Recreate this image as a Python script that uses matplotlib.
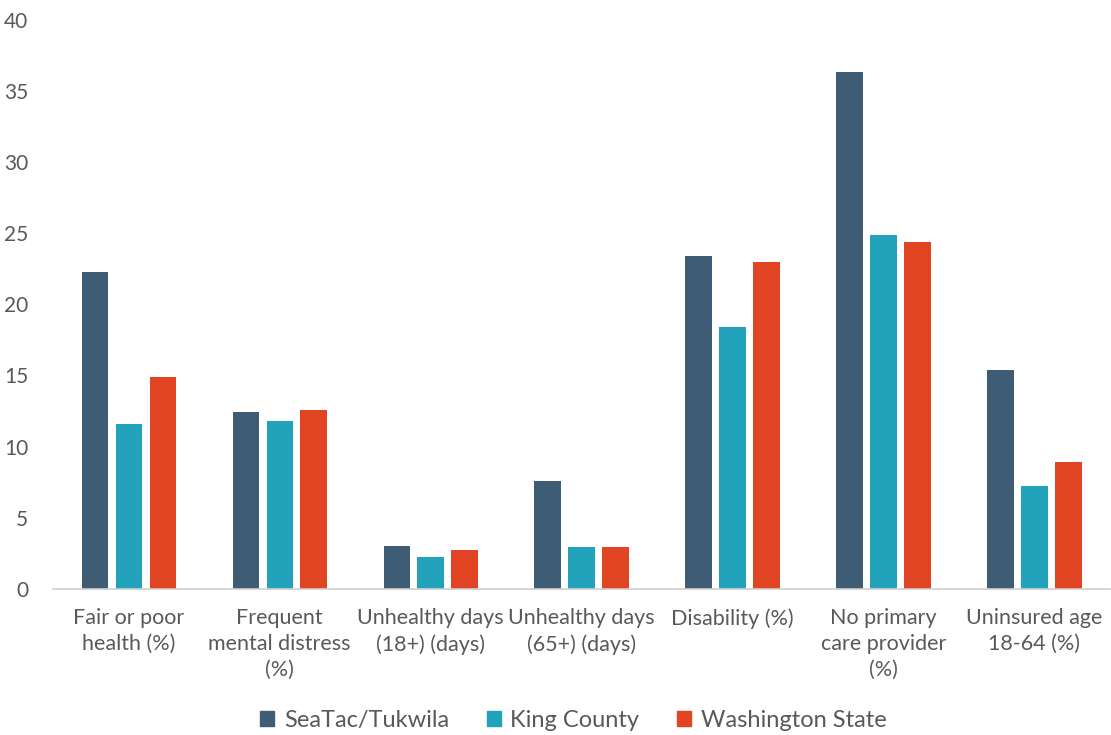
import numpy as np
import matplotlib.pyplot as plt
from matplotlib.patches import Patch

# ── Data ──────────────────────────────────────────────────────
categories = ['Fair or poor\nhealth (%)', 'Frequent\nmental distress\n(%)',
              'Unhealthy days\n(18+) (days)', 'Unhealthy days\n(65+) (days)',
              'Disability (%)', 'No primary\ncare provider\n(%)',
              'Uninsured age\n18-64 (%)']
seatac  = [22.3, 12.4, 3.0, 7.6, 23.4, 36.3, 15.4]
king    = [11.6, 11.8, 2.25, 2.9, 18.4, 24.9, 7.2]
wa      = [14.9, 12.6, 2.7, 2.95, 23.0, 24.4, 8.9]
series  = ['SeaTac/Tukwila', 'King County', 'Washington State']

# ── Style ─────────────────────────────────────────────────────
DARK_BLUE = '#3e5d74'
TEAL      = '#23a3bb'
RED       = '#e04422'
GREY_TXT  = '#595959'
plt.rcParams['font.family'] = ['Lato', 'DejaVu Sans']

fig = plt.figure(figsize=(11.11, 7.35), dpi=100)
ax = fig.add_axes([0.048, 0.199, 0.951, 0.774])

x = np.arange(len(categories))
step, w = 0.225, 0.175
for vals, col, off in [(seatac, DARK_BLUE, -step), (king, TEAL, 0), (wa, RED, step)]:
    ax.bar(x + off, vals, w, color=col)

ax.set_xlim(-0.5, len(categories) - 0.5)
ax.set_ylim(0, 40)
ax.set_yticks(range(0, 41, 5))
ax.set_xticks(x)
ax.set_xticklabels(categories, fontsize=15.5, color=GREY_TXT, linespacing=1.35)
ax.tick_params(axis='y', labelsize=15, labelcolor=GREY_TXT, length=0, pad=18)
ax.tick_params(axis='x', length=0, pad=14)
for s in ['top', 'right', 'left']:
    ax.spines[s].set_visible(False)
ax.spines['bottom'].set_color('#d0d0d0')
ax.spines['bottom'].set_linewidth(1.2)

handles = [Patch(color=c) for c in [DARK_BLUE, TEAL, RED]]
fig.legend(handles, series, loc='center', bbox_to_anchor=(0.516, 0.02),
           ncol=3, frameon=False, fontsize=17, labelcolor=GREY_TXT,
           handlelength=0.6, handleheight=0.6, handletextpad=0.4, columnspacing=1.6)

fig.savefig('out.png', dpi=100)
